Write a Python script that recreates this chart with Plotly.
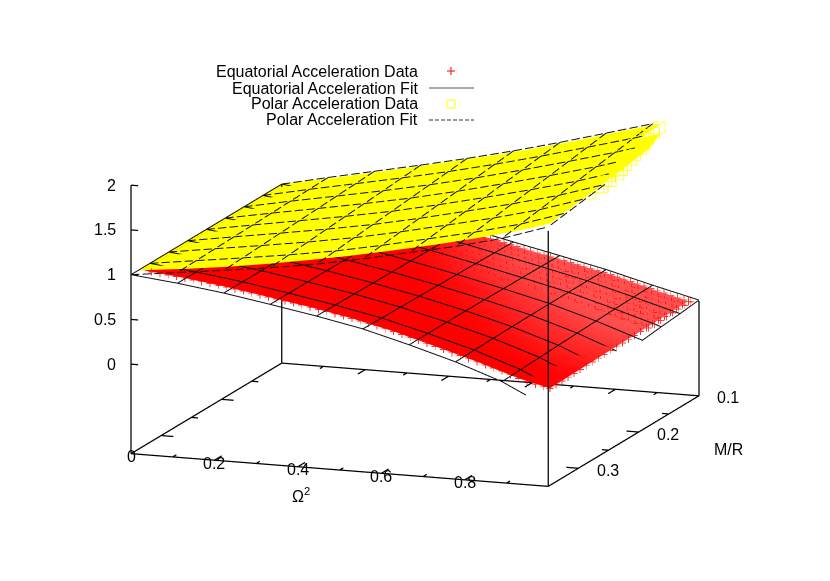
import plotly.graph_objects as go

FONT = 'Liberation Sans'
# ---- fitted surfaces
omega2_fit = [0, 1/9, 2/9, 3/9, 4/9, 5/9, 6/9, 7/9, 8/9, 1]
mr_fit = [.1, .13125, .1625, .19375, .225, .25625, .2875, .31875, .35]
eq_fit = [
 [1,.940,.865,.780,.670,.557,.445,.330,.196,.070],
 [1,.941,.866,.781,.675,.563,.449,.330,.190,.045],
 [1,.941,.868,.782,.679,.569,.452,.330,.183,.025],
 [1,.942,.869,.784,.683,.574,.455,.329,.175,.0],
 [1,.943,.870,.785,.687,.578,.458,.327,.166,-.03],
 [1,.943,.872,.787,.690,.583,.460,.324,.157,-.06],
 [1,.944,.873,.788,.694,.588,.461,.320,.147,-.085],
 [1,.944,.875,.789,.697,.592,.461,.315,.138,-.105],
 [1,.945,.876,.790,.700,.597,.460,.310,.130,-.120]]
pol_fit = [
 [1,1.115,1.225,1.335,1.45,1.575,1.71,1.855,2.00,2.15],
 [1,1.109,1.213,1.318,1.429,1.551,1.683,1.823,1.966,2.119],
 [1,1.103,1.201,1.301,1.408,1.526,1.655,1.791,1.933,2.088],
 [1,1.096,1.189,1.284,1.386,1.502,1.628,1.759,1.899,2.056],
 [1,1.09,1.178,1.268,1.365,1.478,1.60,1.728,1.865,2.025],
 [1,1.084,1.166,1.251,1.344,1.453,1.573,1.696,1.831,1.994],
 [1,1.078,1.154,1.234,1.323,1.429,1.545,1.664,1.798,1.963],
 [1,1.071,1.142,1.217,1.301,1.404,1.518,1.632,1.764,1.931],
 [1,1.065,1.13,1.20,1.28,1.38,1.49,1.60,1.73,1.90]]

# ---- measured data: dense cloud read as a table
omega2_data = [0,.1,.2,.3,.4,.5,.6,.7,.8,.9,.975]
mr_data = [.1,.126,.151,.177,.202,.228,.253,.279,.304,.33]
eq_data = [
 [1,.945,.875,.80,.705,.605,.50,.40,.295,.165,.08],
 [1,.945,.875,.80,.708,.610,.505,.40,.295,.16,.075],
 [1,.945,.876,.80,.712,.615,.51,.405,.295,.155,.07],
 [1,.945,.877,.805,.716,.62,.515,.405,.295,.15,.065],
 [1,.946,.878,.805,.72,.625,.52,.405,.29,.145,.06],
 [1,.946,.88,.805,.722,.63,.525,.41,.29,.14,.055],
 [1,.947,.88,.81,.725,.635,.53,.41,.285,.135,.05],
 [1,.947,.882,.81,.728,.64,.53,.41,.28,.13,.045],
 [1,.948,.883,.81,.73,.643,.535,.41,.275,.125,.04],
 [1,.948,.885,.81,.733,.645,.535,.405,.27,.12,.035]]
eq_sparse = [
 [0,0,0,0,.2,.7,1,1,1,1,1],
 [0,0,0,0,.1,.6,.9,1,1,1,1],
 [0,0,0,0,0,.4,.7,.9,1,1,1],
 [0,0,0,0,0,.2,.5,.7,.9,1,1],
 [0,0,0,0,0,0,.2,.5,.7,.8,.8],
 [0,0,0,0,0,0,.1,.3,.5,.6,.6],
 [0,0,0,0,0,0,0,.1,.3,.4,.4],
 [0,0,0,0,0,0,0,0,.1,.2,.2],
 [0,0,0,0,0,0,0,0,0,0,.1],
 [0,0,0,0,0,0,0,0,0,0,0]]
# polar cloud: marker footprint reaches a little past the outermost points
pol_omega2_data = [-.012,0,.1,.2,.3,.4,.5,.6,.7,.8,.9,.975]
pol_mr_data = [.09,.1,.126,.151,.177,.202,.228,.253,.279,.304,.33]
pol_data = [
 [1,1,1.09,1.19,1.29,1.395,1.50,1.615,1.74,1.875,2.00,None],
 [1,1,1.09,1.19,1.29,1.395,1.50,1.615,1.74,1.875,2.00,None],
 [1,1,1.085,1.18,1.28,1.38,1.485,1.60,1.72,1.85,1.98,2.09],
 [1,1,1.08,1.17,1.27,1.365,1.47,1.58,1.70,1.825,1.955,2.06],
 [1,1,1.075,1.165,1.255,1.35,1.45,1.56,1.675,1.80,1.93,2.035],
 [1,1,1.07,1.155,1.24,1.335,1.435,1.54,1.655,1.775,1.90,2.005],
 [1,1,1.07,1.145,1.23,1.32,1.415,1.52,1.63,1.75,1.875,1.98],
 [1,1,1.065,1.135,1.215,1.305,1.40,1.50,1.61,1.725,1.85,1.95],
 [1,1,1.06,1.125,1.20,1.29,1.38,1.48,1.585,1.70,1.82,1.925],
 [1,1,1.055,1.12,1.19,1.275,1.365,1.46,1.565,1.675,1.795,1.90],
 [1,1,1.05,1.11,1.18,1.26,1.345,1.44,1.54,1.65,1.77,1.875]]

# individually visible points of the equatorial cloud (back corner)
eq_pts_omega2 = [.50,.516,.532,.548,.564,.58,.596,.612,.628,.644,.66,.676,.692,.708,.724,.74,.756,.772,.788,.804,.82,.836,.852,.868,.884,.90,.916,.932,.948,.964,.98]
eq_pts_mr = [.10,.11,.12,.13,.14,.15,.16,.17]
eq_pts = [
 [.610,.592,.575,.557,.540,.522,.505,.488,.470,.455,.440,.425,.410,.395,.380,.362,.345,.328,.310,.290,.270,.250,.230,.210,.190,.170,.150,.130,.110,.092,.075],
 [.611,.593,.576,.558,.541,.523,.506,.489,.471,.456,.440,.425,.410,.395,.380,.362,.345,.328,.310,.290,.270,.250,.230,.209,.189,.169,.149,.129,.109,.091,.074],
 [.612,.594,.577,.559,.542,.524,.507,.490,.472,.457,.441,.426,.411,.396,.380,.362,.345,.328,.310,.290,.270,.249,.229,.208,.188,.168,.148,.128,.108,.090,.073],
 [.613,.595,.578,.560,.543,.525,.508,.491,.473,.457,.442,.426,.411,.396,.381,.363,.345,.328,.310,.290,.269,.249,.228,.207,.187,.167,.147,.127,.107,.089,.072],
 [.615,.597,.580,.562,.545,.527,.510,.492,.475,.459,.443,.427,.412,.396,.381,.363,.346,.328,.310,.289,.269,.248,.228,.207,.186,.166,.146,.126,.106,.088,.071],
 [.616,.598,.581,.563,.546,.528,.511,.493,.476,.460,.444,.428,.412,.397,.381,.363,.346,.328,.310,.289,.269,.248,.227,.206,.185,.165,.145,.125,.105,.087,.070],
 [.618,.600,.582,.565,.547,.530,.512,.495,.477,.461,.445,.429,.413,.397,.381,.363,.346,.328,.310,.289,.268,.247,.226,.205,.184,.164,.144,.124,.104,.086,.068],
 [.619,.601,.584,.566,.549,.531,.514,.496,.478,.462,.446,.430,.414,.398,.382,.364,.346,.328,.310,.289,.268,.247,.226,.204,.183,.163,.143,.123,.103,.085,.067]]
# equatorial cloud, front row (M/R = 0.33)
eq_front_omega2 = [.02,.04,.06,.08,.10,.12,.14,.16,.18,.20,.22,.24,.26,.28,.30,.32,.34,.36,.38,.40,.42,.44,.46,.48,.50,.52,.54,.56,.58,.60,.62,.64,.66,.68,.70,.72,.74,.76,.78,.80,.82,.84,.86,.88,.90,.92,.94,.96]
eq_front = [.99,.98,.97,.96,.948,.936,.924,.91,.898,.885,.87,.857,.84,.825,.81,.795,.78,.765,.75,.733,.717,.70,.682,.664,.645,.625,.605,.585,.56,.535,.51,.485,.46,.433,.405,.378,.35,.325,.297,.27,.243,.216,.19,.155,.12,.095,.07,.05]
# equatorial cloud, last column (Omega^2 = 0.975)
eq_last_mr = [.10,.11,.12,.13,.14,.15,.16,.17,.18,.19,.20,.21,.22,.23,.24,.25,.26,.27,.28,.29,.30,.31,.32,.33]
eq_last = [.08,.078,.076,.075,.073,.071,.069,.067,.065,.063,.061,.059,.057,.055,.053,.051,.049,.047,.045,.043,.041,.039,.037,.035]

# individually visible points of the polar cloud
pol_edge_omega2 = [.905,.91,.915,.925,.935,.94,.95,.955,.965,.975,.975,.975, .885,.89,.895,.90,.91,.92,.93,.94,.95,.96,.96,.96]
pol_edge_mr = [.10,.113,.126,.139,.152,.165,.178,.191,.204,.217,.23,.243, .11,.123,.136,.149,.162,.175,.188,.201,.214,.227,.24,.253]
pol_edge = [1.995,1.985,1.975,1.97,1.975,1.965,1.97,1.96,1.965,1.97,1.95,1.93, 1.96,1.95,1.94,1.93,1.93,1.935,1.935,1.93,1.93,1.935,1.91,1.895]

x_ticks = [.1,.2,.3,.4,.5,.6,.7,.8,.9]
x_labels = ['0','0.2','0.4','0.6','0.8']
x_label_vals = [0,.2,.4,.6,.8]
y_ticks = [.15,.2,.25,.3]
y_label_vals = [.1,.2,.3]
y_labels = ['0.1','0.2','0.3']
z_ticks = [0,.5,1,1.5,2]
z_labels = ['0','0.5','1','1.5','2']
legend_names = ['Equatorial Acceleration Data','Equatorial Acceleration Fit','Polar Acceleration Data','Polar Acceleration Fit']

X0, X1, Y0, Y1, Z0, Z1 = 0, 1, .35, .1, -1, 2
FILL_DROP = .03   # keeps the fill just under the fit mesh so the mesh stays visible

def clip0(xs, ys, zs):
    X, Y, Z = [], [], []
    for i in range(len(zs)):
        if zs[i] >= 0:
            X.append(xs[i]); Y.append(ys[i]); Z.append(zs[i])
        if i + 1 < len(zs) and (zs[i] >= 0) != (zs[i+1] >= 0):
            f = zs[i] / (zs[i] - zs[i+1])
            X.append(xs[i] + f*(xs[i+1]-xs[i])); Y.append(ys[i] + f*(ys[i+1]-ys[i])); Z.append(0)
    return X + [None], Y + [None], Z + [None]

def gridlines(z):
    X, Y, Z = [], [], []
    for i, m in enumerate(mr_fit):
        a, b, c = clip0(omega2_fit, [m]*len(omega2_fit), z[i])
        X += a; Y += b; Z += c
    for j, t in enumerate(omega2_fit):
        a, b, c = clip0([t]*len(mr_fit), mr_fit, [r[j] for r in z])
        X += a; Y += b; Z += c
    return X, Y, Z

def dashes(xs, ys, zs, n, X, Y, Z, on=.72):
    # gl3d dash patterns do not scale to this view, so the dashes are drawn as short strokes
    for i in range(len(xs) - 1):
        for k in range(n):
            f0, f1 = k / n, (k + on) / n
            p0 = [a[i] + f0 * (a[i+1] - a[i]) for a in (xs, ys, zs)]
            p1 = [a[i] + f1 * (a[i+1] - a[i]) for a in (xs, ys, zs)]
            if p1[2] <= 2 and p0[2] <= 2:
                X += [p0[0], p1[0], None]; Y += [p0[1], p1[1], None]; Z += [p0[2], p1[2], None]

def dashed_grid(z):
    X, Y, Z = [], [], []
    for i, m in enumerate(mr_fit):
        dashes(omega2_fit, [m]*len(omega2_fit), z[i], 4, X, Y, Z)
    for j, t in enumerate(omega2_fit):
        dashes([t]*len(mr_fit), mr_fit, [r[j] for r in z], 2, X, Y, Z)
    return X, Y, Z

def drop(tbl):
    return [[None if v is None else v - FILL_DROP for v in row] for row in tbl]

flat = dict(ambient=1, diffuse=0, specular=0, fresnel=0, roughness=1)
fig = go.Figure()
fig.add_trace(go.Surface(x=omega2_data, y=mr_data, z=drop(eq_data), surfacecolor=eq_sparse, cmin=0, cmax=1,
    colorscale=[[0,'#ff0000'],[1,'#ff5050']], showscale=False, lighting=flat, name='Equatorial Acceleration Data'))
fig.add_trace(go.Surface(x=pol_omega2_data, y=pol_mr_data, z=drop(pol_data), colorscale=[[0,'#ffff00'],[1,'#ffff00']],
    showscale=False, lighting=flat, name='Polar Acceleration Data'))

def pts(xs, ys, zs, color, sym, size, op=1):
    fig.add_trace(go.Scatter3d(x=xs, y=ys, z=[v - FILL_DROP for v in zs], mode='markers', opacity=op,
        marker=dict(symbol=sym, size=size, color=color, line=dict(color=color, width=0))))

ax, ay, az = [], [], []
for i, m in enumerate(eq_pts_mr):
    for j, t in enumerate(eq_pts_omega2):
        ax.append(t); ay.append(m); az.append(eq_pts[i][j])
pts(ax, ay, az, '#ff0000', 'cross', 4, .7)
pts(eq_front_omega2, [.33]*len(eq_front), eq_front, '#ff0000', 'cross', 4, .8)
pts([.975]*len(eq_last), eq_last_mr, eq_last, '#ff0000', 'cross', 4, .8)
pts(pol_edge_omega2, pol_edge_mr, pol_edge, '#ffff00', 'square-open', 5)

X, Y, Z = gridlines(eq_fit)
fig.add_trace(go.Scatter3d(x=X, y=Y, z=Z, mode='lines', line=dict(color='#111111', width=2), name='Equatorial Acceleration Fit'))
X, Y, Z = dashed_grid(pol_fit)
fig.add_trace(go.Scatter3d(x=X, y=Y, z=Z, mode='lines', line=dict(color='#111111', width=2), name='Polar Acceleration Fit'))

# box and ticks
def seg(*lines):
    X, Y, Z = [], [], []
    for (a, b, c, d, e, f) in lines:
        X += [a, d, None]; Y += [b, e, None]; Z += [c, f, None]
    return X, Y, Z
lines = [(X0,Y0,Z0,X1,Y0,Z0),(X1,Y0,Z0,X1,Y1,Z0),(X1,Y1,Z0,X0,Y1,Z0),(X0,Y1,Z0,X0,Y0,Z0),
         (X0,Y0,Z0,X0,Y0,2),(X1,Y0,Z0,X1,Y0,1.855),(X1,Y1,Z0,X1,Y1,.06),(X0,Y1,Z0,X0,Y1,1)]
for t in x_ticks:
    d = .012 if round(t*10) % 2 == 0 else .006
    lines += [(t,Y0,Z0,t,Y0-d,Z0),(t,Y1,Z0,t,Y1+d,Z0)]
for m in y_ticks:
    d = .029 if round(m*100) % 10 == 0 else .016
    lines += [(X0,m,Z0,X0+d,m,Z0),(X1,m,Z0,X1-d,m,Z0)]
for z in z_ticks:
    lines += [(X0,Y0,z,X0+.017,Y0,z)]
X, Y, Z = seg(*lines)
fig.add_trace(go.Scatter3d(x=X, y=Y, z=Z, mode='lines', line=dict(color='black', width=2.5)))

tf = dict(family=FONT, size=16, color='black')
sann = []
for v, l in zip(x_label_vals, x_labels):
    sann.append(dict(x=v, y=Y0, z=Z0, text=l, showarrow=False, xshift=0, yshift=-3, yanchor='middle', font=tf))
for v, l in zip(y_label_vals, y_labels):
    sann.append(dict(x=X1, y=v, z=Z0, text=l, showarrow=False, xshift=29.5, yshift=-2, yanchor='middle', font=tf))
for v, l in zip(z_ticks, z_labels):
    sann.append(dict(x=X0, y=Y0, z=v, text=l, showarrow=False, xanchor='right', xshift=-13, yanchor='middle', font=tf))

W, H = 830, 581
def px(x): return x / W
def py(y): return 1 - y / H
ann = [dict(x=px(301), y=py(495), xref='paper', yref='paper', text='Ω<sup>2</sup>', showarrow=False, xanchor='center', yanchor='middle', font=tf),
       dict(x=px(728), y=py(449), xref='paper', yref='paper', text='M/R', showarrow=False, xanchor='center', yanchor='middle', font=tf)]
leg_y = [71, 88, 104, 120]
for n, y in zip(legend_names, leg_y):
    ann.append(dict(x=px(420), y=py(y), xref='paper', yref='paper', xanchor='right', yanchor='middle', text=n, showarrow=False, font=tf))
def shp(kind, a, b, c, d, col, **kw):
    return dict(type=kind, xref='paper', yref='paper', x0=px(a), y0=py(b), x1=px(c), y1=py(d), line=dict(color=col, width=1, **kw))
shapes = [shp('line',447,71,455,71,'#ff0000'), shp('line',451,67,451,75,'#ff0000'),
          shp('line',429,88,474,88,'#555555'),
          shp('rect',447,100,455,108,'#ffff00'),
          shp('line',429,120,474,120,'#333333',dash='4px,2px')]

e = (.3316, -.918, .217)
k = 1.527
# the ranges are a little wider than the box so that the box lines are not clipped by the scene
xm, ym, zm = 1.04, 1.08, 1.01
fig.update_layout(width=W, height=H, margin=dict(l=0,r=0,t=0,b=0), showlegend=False, paper_bgcolor='white',
  annotations=ann, shapes=shapes,
  scene=dict(domain=dict(x=[0,1],y=[0,1]),
    xaxis=dict(range=[-.02,1.02],visible=False), yaxis=dict(range=[.36,.09],visible=False), zaxis=dict(range=[-1.015,2.015],visible=False),
    aspectmode='manual', aspectratio=dict(x=k*xm,y=k*ym,z=.62*k*zm),
    camera=dict(projection=dict(type='orthographic'), eye=dict(x=e[0]*1.31,y=e[1]*1.31,z=e[2]*1.31),
                center=dict(x=0,y=0,z=0), up=dict(x=0,y=0,z=1)),
    annotations=sann))
fig.write_html('out.html', post_script="document.body.style.margin='0';", config=dict(displayModeBar=False))
